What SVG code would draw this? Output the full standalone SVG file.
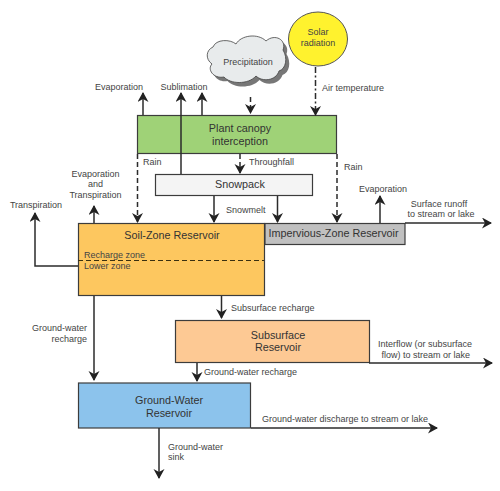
<svg xmlns="http://www.w3.org/2000/svg" width="500" height="491" viewBox="0 0 500 491">
<style>
text{font-family:"Liberation Sans",Arial,sans-serif;fill:#444;font-size:9px}
.n{font-size:10.8px;text-anchor:middle;fill:#333}
.m{text-anchor:middle}
.e{text-anchor:end}
.b{stroke:#3c3c3c;stroke-width:1.2}
.l{fill:none;stroke:#2b2b2b;stroke-width:1.5}
.d{stroke-dasharray:5 3}
.dd{stroke-dasharray:6 2.5 2 2.5}
</style>
<defs>
<marker id="a" markerUnits="userSpaceOnUse" markerWidth="13" markerHeight="12" refX="9" refY="5.500" orient="auto"><path d="M0 0L10 5.500L0 11L3 5.500Z" fill="#222"/></marker>
</defs>
<rect width="500" height="491" fill="#fff"/>
<g id="solar"><ellipse cx="318" cy="39" rx="29.500" ry="27" fill="#fff22e" stroke="#555" stroke-width="1"/><text class="m" x="318" y="35">Solar</text><text class="m" x="318" y="46">radiation</text></g>
<g id="precipitation">
<path transform="translate(3.500 4)" fill="#777" d="M213 47C216 39 230 39 236 44C241 35 258 33 266 41C275 33 287 40 283 50C288 58 286 69 279 71C276 81 262 82 256 76C248 85 230 84 224 77C213 79 207 69 212 64C205 59 206 50 213 47Z"/>
<path fill="#e8ebec" stroke="#444" stroke-width=".8" d="M213 47C216 39 230 39 236 44C241 35 258 33 266 41C275 33 287 40 283 50C288 58 286 69 279 71C276 81 262 82 256 76C248 85 230 84 224 77C213 79 207 69 212 64C205 59 206 50 213 47Z"/>
<text class="m" x="248" y="65">Precipitation</text></g>
<g id="canopy"><rect class="b" x="137.500" y="115.500" width="199" height="38" fill="#9fd277"/><text class="n" x="240" y="132">Plant canopy</text><text class="n" x="240" y="145">interception</text></g>
<g id="snowpack"><rect class="b" x="155.500" y="174.500" width="157" height="21" fill="#f4f4f4"/><text class="n" x="240" y="188">Snowpack</text></g>
<g id="soil"><rect class="b" x="78.500" y="223.500" width="186" height="72" fill="#fdc75f"/><text class="n" x="172" y="239">Soil-Zone Reservoir</text>
<text x="84" y="258">Recharge zone</text><text x="84" y="269">Lower zone</text><path d="M78 260.500H264" stroke="#3a3010" stroke-width="1.200" stroke-dasharray="5 3" fill="none"/></g>
<g id="impervious"><rect class="b" x="265" y="223.500" width="140" height="21" fill="#c0c0c0"/><text class="n" x="333.500" y="237">Impervious-Zone Reservoir</text></g>
<g id="subsurface"><rect class="b" x="175.500" y="320.500" width="194" height="42" fill="#fdc994"/><text class="n" x="278" y="338.500">Subsurface</text><text class="n" x="278" y="351">Reservoir</text></g>
<g id="groundwater"><rect class="b" x="78.500" y="383" width="172" height="45" fill="#8cc3ec"/><text class="n" x="169" y="404">Ground-Water</text><text class="n" x="169" y="417">Reservoir</text></g>
<g id="connectors">
<path class="l" d="M143 115V93" marker-end="url(#a)"/>
<path class="l" d="M181 174V93" marker-end="url(#a)"/>
<path class="l" d="M202 115V93" marker-end="url(#a)"/>
<path class="l d" d="M250.500 97V113" marker-end="url(#a)"/>
<path class="l dd" d="M315.500 67V115" marker-end="url(#a)"/>
<path class="l d" d="M137.500 154V222" marker-end="url(#a)"/>
<path class="l d" d="M240 154V173" marker-end="url(#a)"/>
<path class="l d" d="M337 154V222" marker-end="url(#a)"/>
<path class="l" d="M94 223V206" marker-end="url(#a)"/>
<path class="l" d="M78 266H35V213" marker-end="url(#a)"/>
<path class="l" d="M214 196V222" marker-end="url(#a)"/>
<path class="l" d="M277.500 196V222" marker-end="url(#a)"/>
<path class="l" d="M380 223V196" marker-end="url(#a)"/>
<path class="l" d="M405 223H491" marker-end="url(#a)"/>
<path class="l" d="M221.500 296V318" marker-end="url(#a)"/>
<path class="l" d="M94 296V380" marker-end="url(#a)"/>
<path class="l" d="M197 363V381" marker-end="url(#a)"/>
<path class="l" d="M369 363H492" marker-end="url(#a)"/>
<path class="l" d="M251 428H437" marker-end="url(#a)"/>
<path class="l" d="M159 428V478" marker-end="url(#a)"/>
</g>
<g id="labels">
<text class="m" x="119" y="90">Evaporation</text>
<text class="m" x="184" y="90">Sublimation</text>
<text x="322" y="91">Air temperature</text>
<text x="143" y="165">Rain</text>
<text x="249" y="165">Throughfall</text>
<text x="344" y="170">Rain</text>
<text class="m" x="95.500" y="177">Evaporation</text><text class="m" x="95.500" y="187">and</text><text class="m" x="95.500" y="198">Transpiration</text>
<text class="m" x="36" y="208">Transpiration</text>
<text x="226" y="213">Snowmelt</text>
<text class="m" x="383" y="192">Evaporation</text>
<text class="m" x="439" y="207">Surface runoff</text><text class="m" x="441" y="217">to stream or lake</text>
<text x="231" y="311">Subsurface recharge</text>
<text class="e" x="87" y="331">Ground-water</text><text class="e" x="87" y="342">recharge</text>
<text x="378" y="347">Interflow (or subsurface</text><text x="381.500" y="358">flow) to stream or lake</text>
<text x="204" y="375">Ground-water recharge</text>
<text x="262" y="422">Ground-water discharge to stream or lake</text>
<text x="168" y="450">Ground-water</text><text x="168" y="460">sink</text>
</g>
</svg>
